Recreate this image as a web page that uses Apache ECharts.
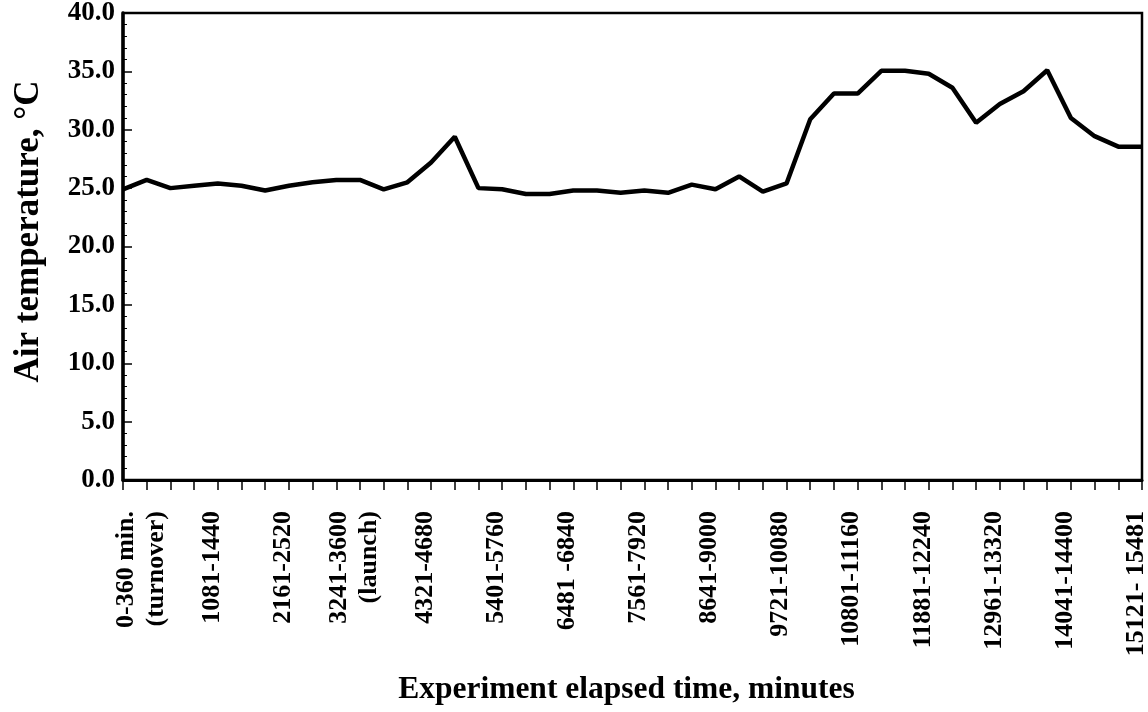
<!DOCTYPE html>
<html>
<head>
<meta charset="utf-8">
<script src="https://cdn.jsdelivr.net/npm/echarts@6/dist/echarts.min.js"></script>
<style>
html,body{margin:0;padding:0;background:#fff;}
#chart{width:1148px;height:712px;}
</style>
</head>
<body>
<div id="chart"></div>
<script>
// Category labels (360-minute periods)
const categories = [
  "0-360 min.\n(turnover)", "361-720", "721-1080", "1081-1440", "1441-1800", "1801-2160",
  "2161-2520", "2521-2880", "2881-3240", "3241-3600\n(launch)", "3601-3960", "3961-4320",
  "4321-4680", "4681-5040", "5041-5400", "5401-5760", "5761-6120", "6121-6480",
  "6481 -6840", "6841-7200", "7201-7560", "7561-7920", "7921-8280", "8281-8640",
  "8641-9000", "9001-9360", "9361-9720", "9721-10080", "10081-10440", "10441-10800",
  "10801-11160", "11161-11520", "11521-11880", "11881-12240", "12241-12600", "12601-12960",
  "12961-13320", "13321-13680", "13681-14040", "14041-14400", "14401-14760", "14761-15120",
  "15121- 15481"
];
// Air temperature readings (°C), one per tick mark
const airTemp = [
  24.9, 25.7, 25.0, 25.2, 25.4, 25.2, 24.8, 25.2, 25.5, 25.7, 25.7,
  24.9, 25.5, 27.2, 29.4, 25.0, 24.9, 24.5, 24.5, 24.8, 24.8, 24.6,
  24.8, 24.6, 25.3, 24.9, 26.0, 24.7, 25.4, 30.9, 33.1, 33.1, 35.05,
  35.05, 34.8, 33.6, 30.6, 32.2, 33.3, 35.1, 31.0, 29.45, 28.55, 28.55
];
const yTicks = { min: 0, max: 40, step: 5 };

const FONT = '"Liberation Serif", "Times New Roman", serif';
const chart = echarts.init(document.getElementById('chart'), null, { renderer: 'canvas' });
chart.setOption({
  animation: false,
  backgroundColor: '#fff',
  grid: {
    left: 123, right: 6, top: 13, bottom: 232,
    show: true, borderColor: '#000', borderWidth: 2.5,
    containLabel: false, outerBoundsMode: 'none'
  },
  xAxis: [
    {
      type: 'value', min: 0, max: airTemp.length - 1, interval: 1,
      position: 'bottom',
      axisLine: { show: true, onZero: false, lineStyle: { color: '#000', width: 3 } },
      axisTick: { show: true, inside: false, length: 10, lineStyle: { color: '#000', width: 1.5 } },
      axisLabel: { show: false },
      splitLine: { show: false }
    },
    {
      type: 'category', data: categories, boundaryGap: true,
      position: 'bottom',
      axisLine: { show: false },
      axisTick: { show: false },
      axisLabel: {
        interval: 2, rotate: 90, margin: 31,
        fontFamily: FONT, fontWeight: 'bold', fontSize: 26, lineHeight: 30, color: '#000',
        formatter: v => '{s| }\n' + v,
        rich: { s: { fontSize: 1, lineHeight: 12, height: 12 } }
      },
      splitLine: { show: false },
      name: 'Experiment elapsed time, minutes',
      nameLocation: 'middle', nameGap: 194,
      nameTextStyle: { fontFamily: FONT, fontWeight: 'bold', fontSize: 31.5, color: '#000', padding: [0, 12, 0, 0] }
    }
  ],
  yAxis: {
    type: 'value', min: yTicks.min, max: yTicks.max, interval: yTicks.step,
    axisLine: { show: true, onZero: false, lineStyle: { color: '#000', width: 3.5 } },
    axisTick: { show: true, inside: true, length: 9, lineStyle: { color: '#000', width: 1.5 } },
    minorTick: { show: true, splitNumber: 5, length: 4, lineStyle: { color: '#000', width: 1 } },
    axisLabel: {
      margin: 8, formatter: v => v.toFixed(1),
      fontFamily: FONT, fontWeight: 'bold', fontSize: 27, color: '#000'
    },
    splitLine: { show: false },
    name: 'Air temperature, °C',
    nameLocation: 'middle', nameRotate: 90, nameGap: 77,
    nameTextStyle: { fontFamily: FONT, fontWeight: 'bold', fontSize: 35, color: '#000', padding: [0, 0, 0, 30] }
  },
  series: [{
    type: 'line',
    xAxisIndex: 0, yAxisIndex: 0,
    data: airTemp.map((v, i) => [i, v]),
    showSymbol: false, symbol: 'none',
    lineStyle: { color: '#000', width: 4.5 }
  }]
});
</script>
</body>
</html>
